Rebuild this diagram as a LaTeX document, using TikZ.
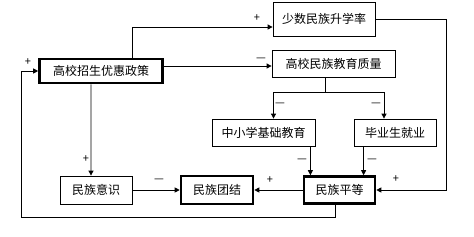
\documentclass[tikz,border=0pt]{standalone}
\usepackage{fontspec}
\setmainfont{Noto Sans CJK SC}
\usetikzlibrary{arrows.meta,calc}
\tikzset{
  box/.style={draw, line width=0.8bp, inner sep=0pt, font=\fontsize{12bp}{14bp}\selectfont},
  thickbox/.style={box, line width=2.6bp},
  link/.style={line width=0.8bp, -{Triangle[length=5bp,width=5bp]}},
  sgn/.style={inner sep=0pt, font=\fontsize{11bp}{12bp}\selectfont},
}
\begin{document}
\begin{tikzpicture}[x=1bp,y=-1bp]
    \useasboundingbox (0,0) rectangle (474,236);
    % boxes
    \node[thickbox, minimum width=123bp, minimum height=24bp] (policy) at (101,71) {高校招生优惠政策};
    \node[box, minimum width=102bp, minimum height=34bp] (rate) at (324,19) {少数民族升学率};
    \node[box, minimum width=123bp, minimum height=27bp] (quality) at (333.5,63.5) {高校民族教育质量};
    \node[box, minimum width=103bp, minimum height=27bp] (basic) at (263.5,132.5) {中小学基础教育};
    \node[box, minimum width=82bp, minimum height=27bp] (employ) at (395,132.5) {毕业生就业};
    \node[thickbox, minimum width=71bp, minimum height=27bp] (equality) at (339.5,190) {民族平等};
    \node[thickbox, minimum width=72bp, minimum height=28bp] (unity) at (217,190) {民族团结};
    \node[box, minimum width=72bp, minimum height=28bp] (aware) at (96,190) {民族意识};
    % helper points
    \coordinate (split) at (325,92);
    \coordinate (rcorner) at (446,190);
    \coordinate (loopc) at (21,217);
    % connectors from the policy box
    \draw[link] ([xshift=31bp]policy.north) |- ([yshift=-8bp]rate.west);
    \draw[link] ([yshift=5bp]policy.east) -- ([yshift=5bp]policy.east -| quality.west);
    \draw[link] ([xshift=-10bp]policy.south) -- ([xshift=-5bp]aware.north);
    % branch below the quality box
    \draw[line width=0.8bp] (quality.south -| split) -- (split);
    \draw[link] (split) -| ([xshift=10bp]basic.north);
    \draw[link] (split) -| ([xshift=-11bp]employ.north);
    % into the equality box
    \draw[link] ([xshift=-5bp]basic.south east) -- ([xshift=-5bp]basic.south east |- equality.north);
    \draw[link] ([xshift=10bp]employ.south west) -- ([xshift=10bp]employ.south west |- equality.north);
    \draw[link] (rate.east) -| (rcorner) -- (equality.east);
    % into the unity box
    \draw[link] (equality.west) -- (unity.east);
    \draw[link] (aware.east) -- (unity.west);
    % feedback loop
    \draw[link] ([xshift=-4.5bp]equality.south) |- (loopc) |- (policy.west);
    % signs
    \node[sgn] (s1) at (257,18) {+};
    \node[sgn] (s2) at (261,60) {—};
    \node[sgn] (s3) at (280,105) {—};
    \node[sgn] (s4) at (376,105) {—};
    \node[sgn] (s5) at (302,161) {—};
    \node[sgn] (s6) at (372,161) {—};
    \node[sgn] (s7) at (270,180) {+};
    \node[sgn] (s8) at (396,179) {+};
    \node[sgn] (s9) at (86,159) {+};
    \node[sgn] (s10) at (159,181) {—};
    \node[sgn] (s11) at (28,62) {+};
\end{tikzpicture}
\end{document}
